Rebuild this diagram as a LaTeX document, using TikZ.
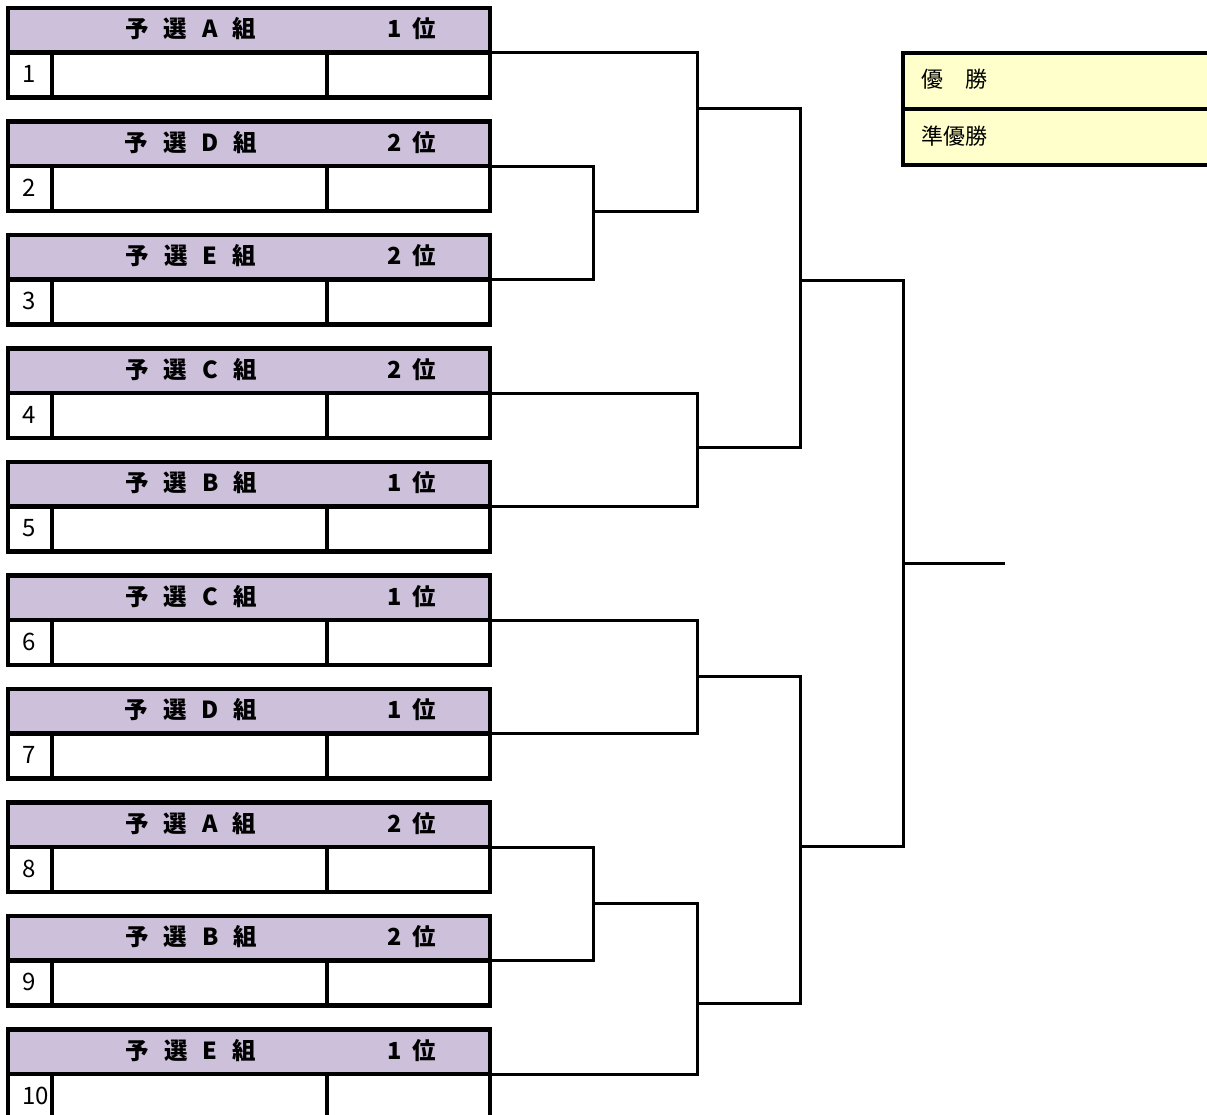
\documentclass[tikz,border=0pt]{standalone}
\usepackage{fontspec}
\newfontfamily\jp{Noto Sans CJK JP}
\definecolor{hdrfill}{HTML}{CCC0DA}
\definecolor{legfill}{HTML}{FFFFCC}
\tikzset{
  boxline/.style={line width=4.5pt, black},
  boxnode/.style={draw=black, line width=4.5pt, rectangle, inner sep=0pt, outer sep=0pt,
    minimum width=482pt, minimum height=89.5pt},
  legnode/.style={draw=black, fill=legfill, line width=4pt, rectangle, inner sep=0pt, outer sep=0pt,
    minimum width=312pt, minimum height=56pt},
  conn/.style={line width=3pt, black},
  hdrtext/.style={inner sep=0pt, font={\jp\bfseries\fontsize{23.5}{27}\selectfont\spaceskip=15pt\relax}},
  ranktext/.style={inner sep=0pt, font={\jp\bfseries\fontsize{23.5}{27}\selectfont\spaceskip=11pt\relax}},
  numtext/.style={inner sep=0pt, anchor=west, font={\jp\fontsize{24}{28}\selectfont}},
  legtext/.style={inner sep=0pt, anchor=west, font={\jp\fontsize{22}{26}\selectfont}}
}
\begin{document}
\begin{tikzpicture}[x=1pt, y=-1pt]
\useasboundingbox (0,0) rectangle (1207,1115);
\clip (0,0) rectangle (1207,1115);
\foreach \i/\grp/\rk in {1/A/1, 2/D/2, 3/E/2, 4/C/2, 5/B/1, 6/C/1, 7/D/1, 8/A/2, 9/B/2, 10/E/1} {
  \pgfmathsetmacro\T{8+113.5*(\i-1)}
  \fill[hdrfill] (8,\T) rectangle (490,\T+44.5);
  \node[boxnode] (b\i) at (249,\T+44.75) {};
  \draw[boxline] (8,\T+44.5) -- (490,\T+44.5);
  \draw[boxline] (52,\T+44.5) -- (52,\T+89.5);
  \draw[boxline] (327,\T+44.5) -- (327,\T+89.5);
  \node[hdrtext] (g\i) at (191,\T+21) {予 選 \grp{} 組};
  \node[ranktext] (r\i) at (412,\T+21) {\rk{} 位};
  \node[numtext] (n\i) at (22,\T+66) {\i};
}
% connector points
\foreach \i in {1,...,10} { \coordinate (p\i) at (b\i.east); }
\coordinate (m23) at (593,211.5);
\coordinate (m1) at (697,109);
\coordinate (m45) at (697,447);
\coordinate (mA) at (800,281);
\coordinate (m67) at (697,676);
\coordinate (m89) at (593,903);
\coordinate (m910) at (697,1003);
\coordinate (mB) at (800,846);
\coordinate (mF) at (903,563);
\coordinate (w) at (1005,563);
\draw[conn] (p2) -| (m23) |- (p3);
\draw[conn] (p1) -| (m1) |- (m23);
\draw[conn] (p4) -| (m45) |- (p5);
\draw[conn] (m1) -| (mA) |- (m45);
\draw[conn] (p6) -| (m67) |- (p7);
\draw[conn] (p8) -| (m89) |- (p9);
\draw[conn] (m89) -| (m910) |- (p10);
\draw[conn] (m67) -| (mB) |- (m910);
\draw[conn] (mA) -| (mF) |- (mB);
\draw[conn] (mF) -- (w);
% legend
\node[legnode] (L1) at (1059,81) {};
\node[legnode] (L2) at (1059,137) {};
\node[legtext] (t1) at (921,79) {優　勝};
\node[legtext] (t2) at (921,136) {準優勝};
\end{tikzpicture}
\end{document}
